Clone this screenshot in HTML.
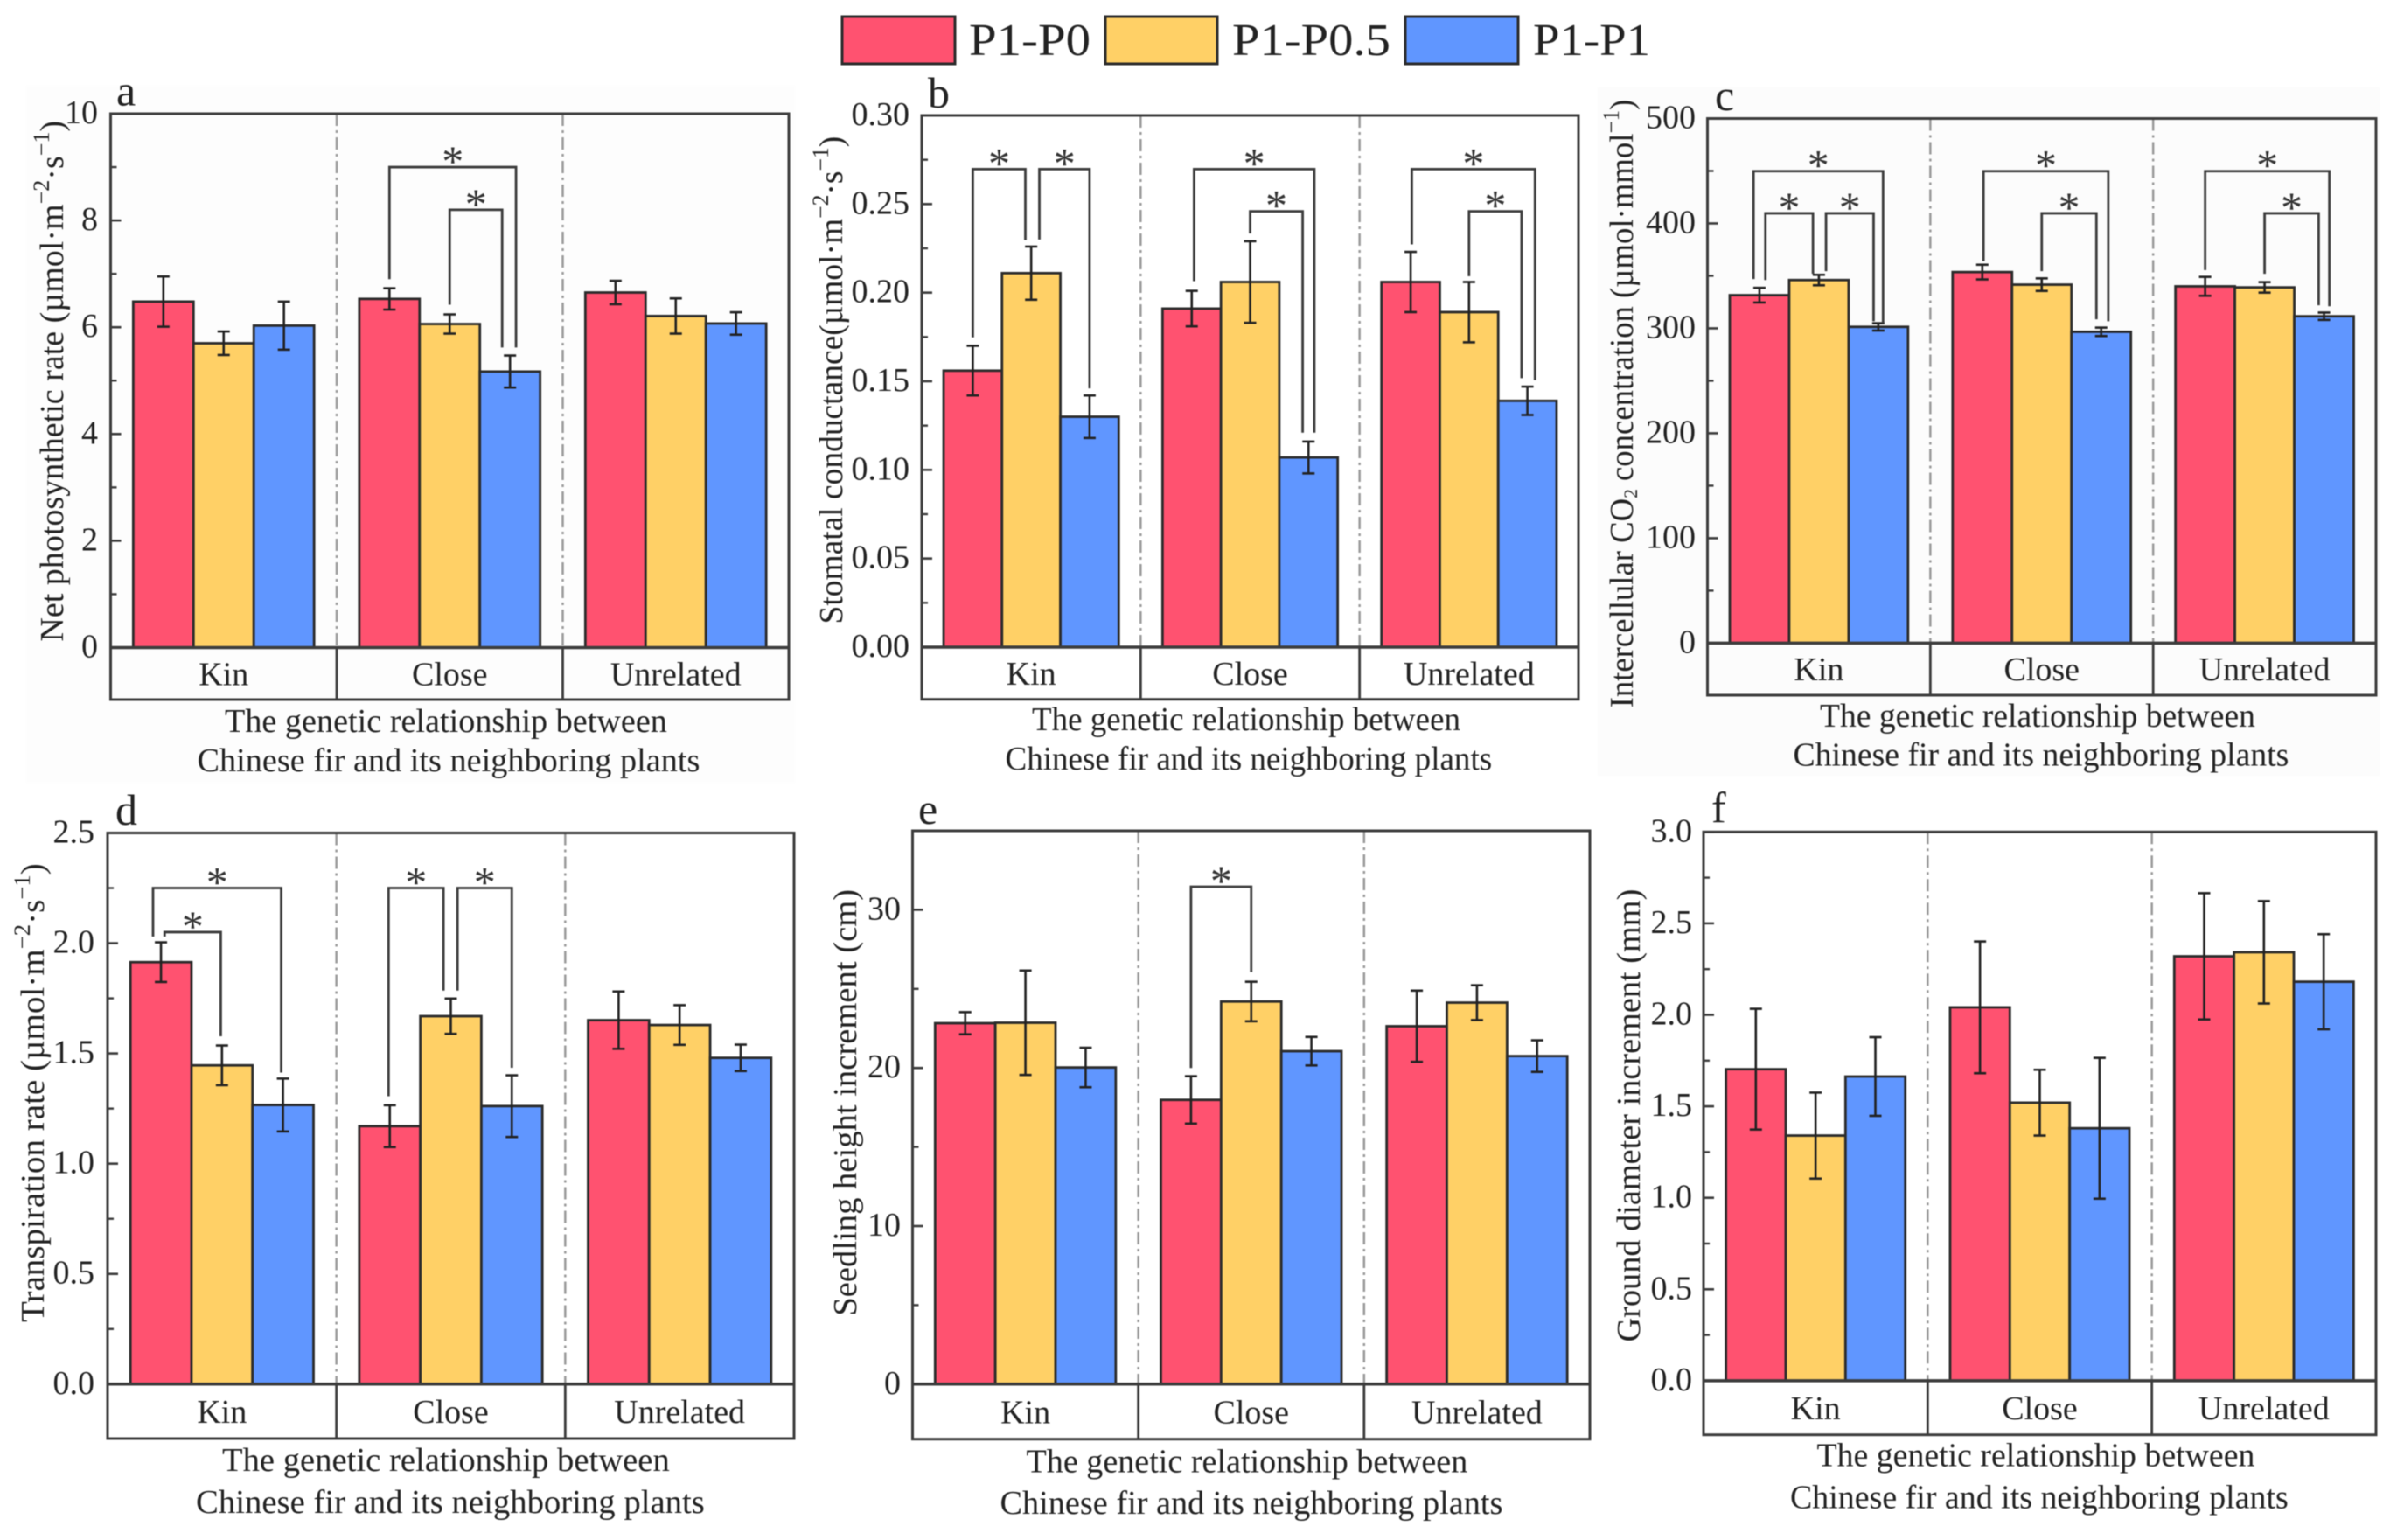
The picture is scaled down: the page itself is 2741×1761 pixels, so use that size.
<!DOCTYPE html>
<html lang="en">
<head>
<meta charset="utf-8">
<title>Chinese fir photosynthesis and growth by neighbor relationship</title>
<style>
html,body{margin:0;padding:0;background:#fff;width:2741px;height:1761px;overflow:hidden}
svg{display:block;font-family:"Liberation Serif","Times New Roman",serif;fill:#222;filter:blur(.5px)}
</style>
</head>
<body>
<svg id="figure" xmlns="http://www.w3.org/2000/svg" width="2741" height="1761" viewBox="0 0 2741 1761">
  <rect x="30" y="98" width="879" height="797" fill="#fdfdfd"/>
  <rect x="1827" y="100" width="894" height="787" fill="#fcfcfc"/>
  <g>
    <rect x="963" y="19" width="129" height="54" fill="#FF5270" stroke="#2b2b2b" stroke-width="3"/>
    <text class="legend-label" data-w="139" x="1108" y="63" font-size="52">P1-P0</text>
    <rect x="1264" y="19" width="128" height="54" fill="#FFD066" stroke="#2b2b2b" stroke-width="3"/>
    <text class="legend-label" data-w="181" x="1409" y="63" font-size="52">P1-P0.5</text>
    <rect x="1607" y="19" width="129" height="54" fill="#6096FF" stroke="#2b2b2b" stroke-width="3"/>
    <text class="legend-label" data-w="134" x="1753" y="63" font-size="52">P1-P1</text>
  </g>
</svg>
<script>
const categories = ['Kin', 'Close', 'Unrelated'];
const seriesNames = ['P1-P0', 'P1-P0.5', 'P1-P1'];
const seriesColors = ['#FF5270', '#FFD066', '#6096FF'];

/* Panel a: net photosynthetic rate */
const aP0 = [6.48, 6.53, 6.65];
const aP05 = [5.70, 6.06, 6.21];
const aP1 = [6.03, 5.17, 6.07];
const aErr0 = [0.47, 0.20, 0.22];
const aErr05 = [0.22, 0.18, 0.33];
const aErr1 = [0.45, 0.30, 0.21];
const aTicks = ['0', '2', '4', '6', '8', '10'];
const aBrackets = [[1, 0, 6.9, 9.0, 2.1, 5.62], [1, 1, 6.42, 8.2, 1.87, 5.62]];

/* Panel b: stomatal conductance */
const bP0 = [0.156, 0.191, 0.206];
const bP05 = [0.211, 0.206, 0.189];
const bP1 = [0.130, 0.107, 0.139];
const bErr0 = [0.014, 0.010, 0.017];
const bErr05 = [0.015, 0.023, 0.017];
const bErr1 = [0.012, 0.009, 0.008];
const bTicks = ['0.00', '0.05', '0.10', '0.15', '0.20', '0.25', '0.30'];
const bBrackets = [[0, 0, 0.1748, 0.2697, 0.9, 0.2297], [0, 1.14, 0.23, 0.2697, 2, 0.146], [1, 0.04, 0.2065, 0.2697, 2.1, 0.121], [1, 1, 0.2334, 0.2459, 1.9, 0.121], [2, 0.02, 0.2272, 0.2697, 2.13, 0.1507], [2, 1, 0.2093, 0.2459, 1.9, 0.1518]];

/* Panel c: intercellular CO2 concentration */
const cP0 = [331.6, 353.6, 340];
const cP05 = [346, 341.6, 339];
const cP1 = [301.4, 296.7, 311.5];
const cErr0 = [7, 7, 9];
const cErr05 = [5, 6, 5];
const cErr1 = [3.5, 4, 3.5];
const cTicks = ['0', '100', '200', '300', '400', '500'];
const cBrackets = [[0, -0.1, 347, 449.8, 2.08, 305], [0, 0.1, 346, 409.6, 0.9, 352], [0, 1.12, 354.5, 409.6, 1.92, 306.7], [1, 0.02, 364, 449.8, 2.12, 306.7], [1, 1, 354.5, 409.6, 1.92, 308.6], [2, 0, 355.5, 449.8, 2.09, 321], [2, 1, 352, 409.6, 1.91, 322]];

/* Panel d: transpiration rate */
const dP0 = [1.914, 1.17, 1.651];
const dP05 = [1.446, 1.669, 1.629];
const dP1 = [1.266, 1.261, 1.48];
const dErr0 = [0.09, 0.095, 0.13];
const dErr05 = [0.09, 0.08, 0.09];
const dErr1 = [0.12, 0.14, 0.06];
const dTicks = ['0.0', '0.5', '1.0', '1.5', '2.0', '2.5'];
const dBrackets = [[0, -0.13, 2.03, 2.25, 1.97, 1.413], [0, 0.06, 2.03, 2.05, 0.98, 1.578], [1, -0.02, 1.306, 2.25, 0.88, 1.785], [1, 1.11, 1.785, 2.25, 2, 1.435]];

/* Panel e: seedling height increment */
const eP0 = [22.83, 17.98, 22.64];
const eP05 = [22.86, 24.2, 24.13];
const eP1 = [20.03, 21.06, 20.75];
const eErr0 = [0.7, 1.5, 2.25];
const eErr05 = [3.3, 1.25, 1.1];
const eErr1 = [1.25, 0.9, 1.0];
const eTicks = ['0', '10', '20', '30'];
const eBrackets = [[1, 0, 20, 31.46, 1, 26.06]];

/* Panel f: ground diameter increment */
const fP0 = [1.703, 2.041, 2.32];
const fP05 = [1.34, 1.52, 2.342];
const fP1 = [1.663, 1.38, 2.181];
const fErr0 = [0.33, 0.36, 0.345];
const fErr05 = [0.235, 0.18, 0.28];
const fErr1 = [0.215, 0.385, 0.26];
const fTicks = ['0.0', '0.5', '1.0', '1.5', '2.0', '2.5', '3.0'];
const fBrackets = [];

const NS = 'http://www.w3.org/2000/svg';
const svg = document.getElementById('figure');
const INK = '#3c3c3c';

function make(tag, attrs, parent) {
  const n = document.createElementNS(NS, tag);
  for (const k in attrs) n.setAttribute(k, attrs[k]);
  parent.appendChild(n);
  return n;
}
/* Stretch or squeeze a text run horizontally so it spans the given pixel width */
function fit(node, x, y, width, rotated) {
  const k = width / node.getComputedTextLength();
  node.removeAttribute('x');
  node.removeAttribute('y');
  node.setAttribute('transform', 'translate(' + x + ',' + y + ')' + (rotated ? ' rotate(-90)' : '') + ' scale(' + k + ',1)');
}

document.querySelectorAll('.legend-label').forEach(function (t) {
  fit(t, +t.getAttribute('x'), +t.getAttribute('y'), +t.dataset.w, false);
});

const panels = [
  { id: 'a', vals: [aP0, aP05, aP1], errs: [aErr0, aErr05, aErr1], ticks: aTicks, br: aBrackets, ymax: 10,
    x0: 126.5, x1: 902, top: 130, zero: 740.5, bottom: 800, tickRight: 112,
    title: [['Net photosynthetic rate (µmol·m', 0], ['−2', 1], ['·s', 0], ['−1', 1], [')', 0]],
    tx: 72, ty: 733.6, tw: 596, letter: [133, 120.7], l1: [510, 837, 506], l2: [513, 882, 575] },
  { id: 'b', vals: [bP0, bP05, bP1], errs: [bErr0, bErr05, bErr1], ticks: bTicks, br: bBrackets, ymax: 0.3,
    x0: 1054, x1: 1805, top: 132, zero: 740, bottom: 799.7, tickRight: 1040,
    title: [['Stomatal conductance(µmol·m', 0], ['−2', 1], ['·s', 0], ['−1', 1], [')', 0]],
    tx: 963, ty: 713.5, tw: 558, letter: [1061, 123], l1: [1425, 835, 490], l2: [1428, 880, 557] },
  { id: 'c', vals: [cP0, cP05, cP1], errs: [cErr0, cErr05, cErr1], ticks: cTicks, br: cBrackets, ymax: 500,
    x0: 1952.5, x1: 2717, top: 135.5, zero: 735.4, bottom: 795, tickRight: 1939,
    title: [['Intercellular CO', 0], ['2', 2], [' concentration (µmol·mmol', 0], ['−1', 1], [')', 0]],
    tx: 1867, ty: 809.4, tw: 696, letter: [1961, 126], l1: [2330, 831, 498], l2: [2334, 875.4, 567] },
  { id: 'd', vals: [dP0, dP05, dP1], errs: [dErr0, dErr05, dErr1], ticks: dTicks, br: dBrackets, ymax: 2.5,
    x0: 123, x1: 908, top: 952.5, zero: 1582.8, bottom: 1645, tickRight: 108,
    title: [['Transpiration rate (µmol·m', 0], ['−2', 1], ['·s', 0], ['−1', 1], [')', 0]],
    tx: 50, ty: 1512, tw: 525, letter: [132, 943], l1: [510, 1682, 512], l2: [515, 1730, 582] },
  { id: 'e', vals: [eP0, eP05, eP1], errs: [eErr0, eErr05, eErr1], ticks: eTicks, br: eBrackets, ymax: 35,
    x0: 1043.5, x1: 1818, top: 950, zero: 1582.8, bottom: 1645.7, tickRight: 1030,
    title: [['Seedling height increment (cm)', 0]],
    tx: 979, ty: 1504.7, tw: 488, letter: [1050, 941.8], l1: [1426, 1683.4, 505], l2: [1431, 1731, 575] },
  { id: 'f', vals: [fP0, fP05, fP1], errs: [fErr0, fErr05, fErr1], ticks: fTicks, br: fBrackets, ymax: 3,
    x0: 1948, x1: 2717, top: 951.3, zero: 1578.9, bottom: 1640.7, tickRight: 1935,
    title: [['Ground diameter increment (mm)', 0]],
    tx: 1875, ty: 1534.5, tw: 518, letter: [1957, 940.7], l1: [2328, 1676.6, 501], l2: [2332, 1724.4, 570] }
];

panels.forEach(function (p) {
  const y = function (v) { return p.zero - (v / p.ymax) * (p.zero - p.top); };
  const gw = (p.x1 - p.x0) / 3;
  const bw = 0.8 * gw / 3;
  const groupLeft = function (g) { return p.x0 + g * gw + 0.1 * gw; };
  const xc = function (g, s) { return groupLeft(g) + (s + 0.5) * bw; };

  const root = make('g', {}, svg);
  
  

  /* group separators above the baseline */
  [1, 2].forEach(function (i) {
    const sep = make('line', { x1: p.x0 + i * gw, x2: p.x0 + i * gw, y1: p.top, y2: p.zero, stroke: '#9a9a9a', 'stroke-width': 2.5, 'stroke-dasharray': '14 5 3 5' }, root);
    
    
  });

  /* bars */
  p.vals.forEach(function (series, s) {
    series.forEach(function (v, g) {
      const bar = make('rect', { x: groupLeft(g) + s * bw, y: y(v), width: bw, height: y(0) - y(v), fill: seriesColors[s], stroke: '#2b2b2b', 'stroke-width': 2.8 }, root);
      
      
    });
  });

  /* error bars */
  p.errs.forEach(function (series, s) {
    series.forEach(function (e, g) {
      const v = p.vals[s][g];
      const cx = xc(g, s);
      const grp = make('g', { stroke: '#222', 'stroke-width': 2.6, fill: 'none' }, root);
      
      
      make('line', { x1: cx, x2: cx, y1: y(v + e), y2: y(v - e) }, grp);
      make('line', { x1: cx - 7, x2: cx + 7, y1: y(v + e), y2: y(v + e) }, grp);
      make('line', { x1: cx - 7, x2: cx + 7, y1: y(v - e), y2: y(v - e) }, grp);
    });
  });

  /* significance brackets */
  p.br.forEach(function (b) {
    const xa = xc(b[0], b[1]);
    const xb = xc(b[0], b[4]);
    const path = make('polyline', { points: xa + ',' + y(b[2]) + ' ' + xa + ',' + y(b[3]) + ' ' + xb + ',' + y(b[3]) + ' ' + xb + ',' + y(b[5]), fill: 'none', stroke: INK, 'stroke-width': 2.8 }, root);
    
    
    const star = make('text', { x: (xa + xb) / 2, y: y(b[3]) + 10, 'font-size': 50, 'text-anchor': 'middle', fill: '#333' }, root);
    star.textContent = '*';
    
    
  });

  /* frame, baseline, category dividers */
  const frame = make('rect', { x: p.x0, y: p.top, width: p.x1 - p.x0, height: p.bottom - p.top, fill: 'none', stroke: INK, 'stroke-width': 3 }, root);
  
  
  const base = make('line', { x1: p.x0, x2: p.x1, y1: p.zero, y2: p.zero, stroke: INK, 'stroke-width': 3.5 }, root);
  
  
  [1, 2].forEach(function (i) {
    const div = make('line', { x1: p.x0 + i * gw, x2: p.x0 + i * gw, y1: p.zero, y2: p.bottom, stroke: INK, 'stroke-width': 2.8 }, root);
    
    
  });

  /* category labels */
  categories.forEach(function (c, g) {
    const t = make('text', { x: p.x0 + (g + 0.5) * gw, y: (p.zero + p.bottom) / 2 + 13, 'font-size': 38, 'text-anchor': 'middle' }, root);
    t.textContent = c;
    
    
  });

  /* y ticks and labels */
  const nums = p.ticks.map(parseFloat);
  const step = nums[1] - nums[0];
  nums.forEach(function (v, i) {
    const tick = make('line', { x1: p.x0, x2: p.x0 + 12, y1: y(v), y2: y(v), stroke: INK, 'stroke-width': 2.6 }, root);
    
    
    const lab = make('text', { x: p.tickRight, y: y(v) + 11, 'font-size': 38, 'text-anchor': 'end' }, root);
    lab.textContent = p.ticks[i];
    
    
    const mv = v + step / 2;
    if (mv < p.ymax) {
      const minor = make('line', { x1: p.x0, x2: p.x0 + 7, y1: y(mv), y2: y(mv), stroke: INK, 'stroke-width': 2.4 }, root);
      
      
    }
  });

  /* y axis title */
  const yt = make('text', { 'font-size': 38 }, root);
  
  
  let shift = 0;
  p.title.forEach(function (part) {
    const span = make('tspan', {}, yt);
    span.textContent = part[0];
    if (part[1] === 1) { span.setAttribute('font-size', 26); span.setAttribute('dy', -16 - shift); shift = -16; }
    else if (part[1] === 2) { span.setAttribute('font-size', 22); span.setAttribute('dy', 5 - shift); shift = 5; }
    else if (shift !== 0) { span.setAttribute('dy', -shift); shift = 0; }
  });
  fit(yt, p.tx, p.ty, p.tw, true);

  /* panel letter */
  const letter = make('text', { x: p.letter[0], y: p.letter[1], 'font-size': 50 }, root);
  letter.textContent = p.id;
  
  

  /* x axis title, two lines */
  const line1 = make('text', { 'font-size': 38 }, root);
  line1.textContent = 'The genetic relationship between';
  
  
  fit(line1, p.l1[0] - p.l1[2] / 2, p.l1[1], p.l1[2], false);
  const line2 = make('text', { 'font-size': 38 }, root);
  line2.textContent = 'Chinese fir and its neighboring plants';
  
  
  fit(line2, p.l2[0] - p.l2[2] / 2, p.l2[1], p.l2[2], false);
});
</script>
</body>
</html>
